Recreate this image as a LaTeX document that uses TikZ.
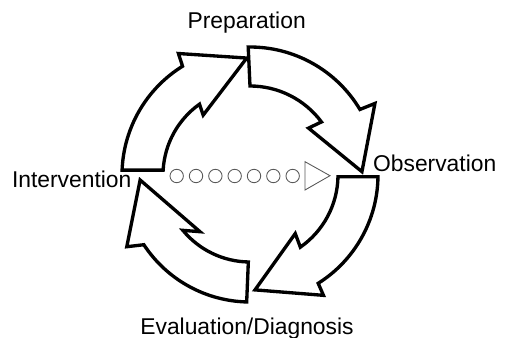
\documentclass[tikz,border=0pt]{standalone}
\usepackage{fontspec}
\setmainfont{Liberation Sans}
\usepackage{tikz}
\usetikzlibrary{calc}

\begin{document}
\begin{tikzpicture}[x=0.02cm,y=0.02cm,
  blockarrow/.style={line width=1.9pt,line join=miter},
  dotc/.style={gray!70!black,line width=0.5pt},
  lbl/.style={anchor=base,inner sep=0pt,font=\fontsize{13}{15}\selectfont}]
\useasboundingbox (-250,-163) rectangle (257,175);
\draw[blockarrow] (177.8:128) arc (177.8:121.8:128) -- (120.5:141) -- (91.6:117) -- (128:76) -- (125.5:87) arc (125.5:176.8:87) -- cycle;
\draw[blockarrow] (90.8:128) arc (90.8:30.8:128) -- (29.8:144) -- (1.7:112) -- (38.7:75) -- (36.6:89) arc (36.6:90:89) -- cycle;
\draw[blockarrow] (-0.8:128) arc (-0.8:-57.8:128) -- (-58.6:141) -- (-87.5:115) -- (-52.3:74) -- (-55.1:88) arc (-55.1:-1.1:88) -- cycle;
\draw[blockarrow] (268.5:127) arc (268.5:213.3:127) -- (210.2:142.6) -- (182.6:110) -- (228.6:75.6) -- (219.5:87) arc (219.5:268.9:87) -- cycle;
\foreach \i in {0,...,6}
  \draw[dotc] ({-73.3+19.33*\i},-1) circle (6.7);
\draw[dotc] (55,13.3) -- (80,-0.7) -- (55,-15) -- cycle;
\node[lbl] (prep) at (-3.3,146.7){Preparation};
\node[lbl] (obs) at (184.7,3.3){Observation};
\node[lbl] (interv) at (-178.3,-12.7){Intervention};
\node[lbl] (evaldiag) at (-3,-159.3){Evaluation/Diagnosis};
\end{tikzpicture}
\end{document}
